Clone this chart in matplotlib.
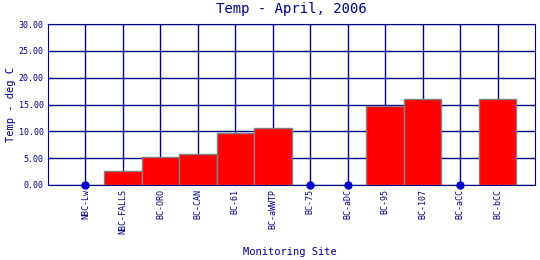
import numpy as np
import matplotlib
matplotlib.use("Agg")
import matplotlib.pyplot as plt

sites = ['NBC-Lw', 'NBC-FALLS', 'BC-ORO', 'BC-CAN', 'BC-61', 'BC-aWWTP',
         'BC-75', 'BC-aDC', 'BC-95', 'BC-107', 'BC-aCC', 'BC-bCC']
temps = [np.nan, 2.6, 5.2, 5.7, 9.6, 10.55, np.nan, np.nan, 14.65, 15.95, np.nan, 15.95]

navy = '#000080'
plt.rcParams['font.family'] = 'DejaVu Sans Mono'

fig = plt.figure(figsize=(5.4, 2.6), dpi=100)
ax = fig.add_axes([48/540, 75/260, 487/540, 161/260])

x = np.arange(len(sites))
vals = np.array(temps)
has = ~np.isnan(vals)

ax.set_axisbelow(True)
ax.grid(True, color=navy, linewidth=1)
ax.bar(x[has], vals[has], width=1.0, color='#ff0000', edgecolor='#808080', linewidth=1, zorder=3)
# sites without data shown as dots on the axis
ax.plot(x[~has], np.zeros((~has).sum()), 'o', color='#0000cc', markersize=5, zorder=4, clip_on=False)

ax.set_xlim(-1, 12)
ax.set_ylim(0, 30)
ax.set_yticks([0, 5, 10, 15, 20, 25, 30])
ax.set_yticklabels([f"{v:.2f}" for v in [0, 5, 10, 15, 20, 25, 30]])
ax.set_xticks(x)
ax.set_xticklabels(sites, rotation=90)
ax.tick_params(length=0, colors=navy, labelsize=6, pad=3)
for s in ax.spines.values():
    s.set_color(navy)

ax.set_title("Temp - April, 2006", color=navy, fontsize=10, pad=8)
fig.text(290/540, 1 - 252/260, "Monitoring Site", color=navy, fontsize=7.5,
         ha='center', va='center')
fig.text(11/540, 1 - 105/260, "Temp - deg C", color=navy, fontsize=7.5,
         ha='center', va='center', rotation=90)

fig.savefig("out.png", dpi=100)
